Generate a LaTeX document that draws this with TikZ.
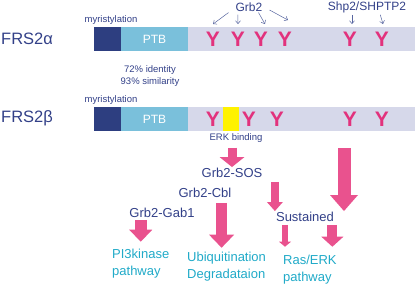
\documentclass[tikz,border=0pt]{standalone}
\usepackage{fontspec}
\setmainfont{Liberation Sans}
\usetikzlibrary{arrows.meta,calc,positioning}

\definecolor{barnavy}{RGB}{45,62,128}
\definecolor{ptbblue}{RGB}{122,192,219}
\definecolor{bargrey}{RGB}{214,216,234}
\definecolor{tyrpink}{RGB}{226,50,125}
\definecolor{flowpink}{RGB}{233,82,142}
\definecolor{textnavy}{RGB}{50,64,136}
\definecolor{linknavy}{RGB}{88,102,160}
\definecolor{pathcyan}{RGB}{32,170,200}
\definecolor{erkyellow}{RGB}{255,242,0}

\begin{document}
\begin{tikzpicture}[
    x=1pt, y=-1pt,
    every node/.style={inner sep=1pt, text=textnavy},
    protein/.style={
        font=\fontsize{16.5}{18}\selectfont,
        anchor=west
    },
    segment/.style={
        inner sep=0pt,
        outer sep=0pt,
        minimum height=24pt,
        anchor=north west
    },
    tyr/.style={
        font=\fontsize{21}{21}\selectfont\bfseries,
        text=tyrpink,
        inner sep=0pt
    },
    note/.style={font=\fontsize{9.5}{12}\selectfont},
    binder/.style={font=\fontsize{12}{14}\selectfont},
    adaptor/.style={font=\fontsize{13}{16}\selectfont},
    outcome/.style={
        font=\fontsize{13}{17}\selectfont,
        text=pathcyan,
        align=left,
        anchor=west
    },
    pointer/.style={draw=linknavy, line width=0.5pt, -{Straight Barb[length=3pt,width=5pt]}},
    fat/.style n args={3}{draw=flowpink, line width=#1, -{Triangle[length=#2,width=#3,line width=0pt]}}
]

\useasboundingbox (0,0) rectangle (416,285);

%------------------------------------------------
% FRS2 alpha
%------------------------------------------------
\node[protein] (frsa) at (0,39) {FRS2α};

\node[segment, fill=barnavy, minimum width=27pt] (myra) at (94,27) {};
\node[segment, fill=ptbblue, minimum width=67pt, text=white,
      font=\fontsize{12}{12}\selectfont] (ptba) at (121,27) {PTB};
\node[segment, fill=bargrey, minimum width=227pt] (taila) at (188,27) {};

\node[note] (mya) at (111,20) {myristylation};

\foreach \x [count=\i] in {213,238,261,285,350,382}
    \node[tyr] (ya\i) at (\x,39.5) {Y};

\node[binder] (grb) at (249,7)  {Grb2};
\node[binder] (shp) at (367,7)  {Shp2/SHPTP2};

\draw[pointer] ([xshift=-6pt]grb.south west) -- ([yshift=8pt]ya1.north);
\draw[pointer] ([xshift=3.5pt,yshift=-2pt]grb.south west) -- ([yshift=8pt]ya2.north);
\draw[pointer] ([xshift=-5pt]grb.south east) -- ([xshift=4pt,yshift=8pt]ya3.north);
\draw[pointer] ([xshift=6pt,yshift=-3pt]grb.east) -- ([xshift=3pt,yshift=12pt]ya4.north);

\draw[pointer, shorten <=1pt] ($(ya5.north |- shp.south)+(2,0)$) -- ([xshift=2pt,yshift=8pt]ya5.north);
\draw[pointer, shorten <=1pt] ($(ya6.north |- shp.south)+(-2,0)$) -- ([xshift=1pt,yshift=8pt]ya6.north);

\node[note, align=center] (ident) at (150,76) {72\% identity\\93\% similarity};

%------------------------------------------------
% FRS2 beta
%------------------------------------------------
\node[protein] (frsb) at (0,118) {FRS2β};

\node[segment, fill=barnavy, minimum width=27pt] (myrb) at (94,107) {};
\node[segment, fill=ptbblue, minimum width=67pt, text=white,
      font=\fontsize{12}{12}\selectfont] (ptbb) at (121,107) {PTB};
\node[segment, fill=bargrey, minimum width=227pt] (tailb) at (188,107) {};
\node[segment, fill=erkyellow, minimum width=16pt] (erksite) at (223,107) {};

\node[note] (myb) at (111,100) {myristylation};

\foreach \x [count=\i] in {213,249,277,350,382}
    \node[tyr] (yb\i) at (\x,119) {Y};

\node[note] (erk) at (236,138) {ERK binding};

%------------------------------------------------
% Signalling outputs
%------------------------------------------------
\node[adaptor] (sos)  at (232,173) {Grb2-SOS};
\node[adaptor] (cbl)  at (205,193) {Grb2-Cbl};
\node[adaptor] (gab)  at (162,213) {Grb2-Gab1};
\node[adaptor] (sust) at (305,217) {Sustained};

\node[outcome] (pi3) at (111,264)   {PI3kinase\\pathway};
\node[outcome] (ubi) at (186,267)   {Ubiquitination\\Degradataion};
\node[outcome] (ras) at (282,269.5) {Ras/ERK\\pathway};

\coordinate (ubitop)    at ($(ubi.north)+(-5,-3.5)$);
\coordinate (erkdrop)   at (344,148);
\coordinate (rasleft)   at ($(ras.north west)+(3,0)$);
\coordinate (rasright)  at ($(ras.north east)+(-5.5,0)$);

\draw[fat={9pt}{10pt}{25pt}, shorten <=4pt] (sos.north |- erk.south) -- (sos.north);
\draw[fat={12pt}{12pt}{23pt}, shorten <=1pt, shorten >=6.5pt] (pi3.north |- gab.south) -- (pi3.north);
\draw[fat={11pt}{13pt}{25pt}, shorten <=4pt] (ubitop |- cbl.south) -- (ubitop);
\draw[fat={8pt}{9pt}{16pt}, shorten <=3pt] (sust.north west |- sos.south) -- (sust.north west);
\draw[fat={13pt}{16pt}{28pt}] (erkdrop) -- (erkdrop |- sust.north);
\draw[fat={6pt}{5pt}{12pt}, shorten <=2pt, shorten >=7pt] (rasleft |- sust.south) -- (rasleft);
\draw[fat={10pt}{10pt}{22pt}, shorten <=2pt, shorten >=7pt] (rasright |- sust.south) -- (rasright);

\end{tikzpicture}
\end{document}
